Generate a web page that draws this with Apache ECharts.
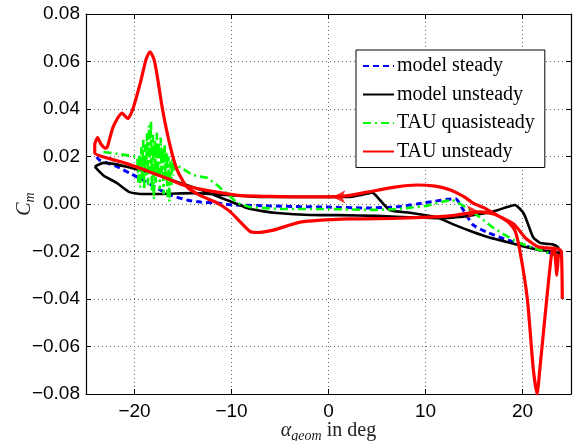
<!DOCTYPE HTML>
<html><head>
<meta charset="utf-8">
<title>Cm hysteresis</title>
<script src="https://cdn.jsdelivr.net/npm/echarts@6/dist/echarts.min.js"></script>
<style>
html,body{margin:0;padding:0;background:#fff;}
#main_chart{width:573px;height:441px;}
</style>
</head>
<body>
<div id="main_chart"></div>
<script type="text/javascript">
// values: alpha_geom in deg, Cm
var steadyAlpha = [-23.9,-23.6,-21.8,-20.5,-19.1,-17.7,-16.3,-14.6,-13.2,-11.5,-9.8,-6,-3,0,4,7,9.1,11,12.2,13.1,13.9,14.9,16.3,17.8,19.4,21,22.8,23.7];
var steadyCm = [0.0198,0.0185,0.0157,0.013,0.010,0.0067,0.0038,0.0017,0.0008,0.0004,-0.0004,-0.0008,-0.0011,-0.0013,-0.0017,-0.0012,0.0000,0.0012,0.002,0.0022,-0.0025,-0.0088,-0.0118,-0.0142,-0.0164,-0.0185,-0.0206,-0.022];

var unsteadyAlpha = [-24.1,-23.2,-22,-20.8,-19,-17.4,-15.6,-13.2,-11.8,-10.5,-9.4,-8.4,-6.8,-5.3,-1.9,1,5,9,11.5,13.5,15,16.3,17.5,18.4,19.2,20.1,20.6,21.1,21.8,22.5,23.1,23.6,24.0,
  23.2,21.8,20,18.4,16.5,14.9,13,11.8,10.8,8.4,6.3,5.3,4.5,3.6,2.2,-1.9,-7.1,-10.5,-14,-17.4,-19.1,-20.5,-21.8,-23.2,-24.1];
var unsteadyCm = [0.0157,0.0173,0.0168,0.0157,0.0138,0.012,0.0093,0.006,0.0038,0.0017,0.0,-0.0017,-0.003,-0.0038,-0.0046,-0.0047,-0.005,-0.0057,-0.006,-0.0055,-0.0046,-0.0038,-0.0025,-0.0013,-0.0004,-0.0038,-0.0088,-0.014,-0.0164,-0.0168,-0.017,-0.018,-0.0206,
  -0.0202,-0.0194,-0.0178,-0.016,-0.014,-0.0118,-0.0088,-0.0067,-0.0053,-0.0037,-0.0025,0.0017,0.0048,0.004,0.003,0.003,0.003,0.0038,0.0046,0.0042,0.0042,0.005,0.0088,0.012,0.0157];

var quasiAlpha = [-23.2,-21.5,-19.7,
  -19.6,-19.5,-19.4,-19.3,-19.2,-19.1,-19.0,-18.9,-18.8,-18.7,-18.6,-18.5,-18.4,-18.3,-18.2,-18.1,-18.0,-17.9,-17.8,-17.7,-17.6,-17.5,-17.4,-17.3,-17.2,-17.1,-17.0,-16.9,-16.8,-16.7,-16.6,-16.5,-16.4,-16.3,-16.2,-16.1,-16.0,-15.9,
  -15.8,-14,-12.5,-11.5,-10.5,-9.4,-8.1,-5,0,4,7,10.1,12,12.8,13.8,14.9,17,19.4,21.8,23.9];
var quasiCm = [0.0219,0.021,0.0198,
  0.009,0.021,0.007,0.024,0.010,0.027,0.006,0.025,0.012,0.030,0.008,0.033,0.014,0.035,0.005,0.029,0.002,0.027,0.009,0.030,0.011,0.026,0.006,0.028,0.013,0.024,0.004,0.025,0.010,0.022,0.003,0.020,0.001,0.018,0.008,0.019,0.012,0.017,
  0.0165,0.0122,0.011,0.008,0.0046,0.0004,-0.0013,-0.0021,-0.0021,-0.0025,-0.0022,-0.0008,0.0012,0.0017,-0.0005,-0.0034,-0.0101,-0.016,-0.0194,-0.0223];

var tauAlpha = [23.7,23.55,23.25,23.0,22.5,21.8,21.5,21.1,20.5,19.7,19.2,18.5,17.0,16.0,14.9,14.0,12.5,11.0,9.1,7.0,4.0,2.0,0.0,-3.0,-6.0,-9.0,-11.5,-13.5,-15.0,-16.5,-18.4,-20.8,-22.5,-24.1,
  -24.1,-23.8,-23.5,-23.0,-22.8,-22.2,-21.3,-20.7,-20.2,-19.4,-18.8,-18.4,-18.0,-17.7,-17.1,-16.3,-15.6,-14.6,-13.2,-11.5,-10.2,-9.1,-8.1,-7.4,-5.7,-2.9,2.2,7.4,12.5,15.6,17.0,18.0,19.2,20.3,21.6,22.8,23.7,24.0,24.1];
var tauCm = [-0.021,-0.030,-0.0185,-0.021,-0.040,-0.069,-0.080,-0.069,-0.040,-0.019,-0.011,-0.0075,-0.0038,-0.0015,0.0004,0.003,0.006,0.0075,0.008,0.0072,0.005,0.0035,0.003,0.003,0.0032,0.0035,0.005,0.0065,0.008,0.0105,0.0135,0.017,0.019,0.0215,
  0.025,0.028,0.0255,0.0235,0.024,0.0325,0.0383,0.036,0.0396,0.051,0.061,0.0641,0.061,0.055,0.0396,0.024,0.0143,0.0072,0.0035,0.0005,-0.003,-0.0075,-0.0115,-0.012,-0.011,-0.0076,-0.0063,-0.006,-0.005,-0.0033,-0.0042,-0.006,-0.0088,-0.0143,-0.018,-0.0186,-0.019,-0.020,-0.040];

// direction arrows drawn on the TAU unsteady loop
var arrowAlpha = [0.4, 15.6];
var arrowCm = [0.003, -0.0033];

var xTicks = [-20, -10, 0, 10, 20];

function pairs(xs, ys) {
    var out = [];
    for (var i = 0; i < xs.length; i++) out.push([xs[i], ys[i]]);
    return out;
}
function minus(s) { return String(s).replace('-', '\u2212'); }

var myChart = echarts.init(document.getElementById('main_chart'));
var serif = 'Liberation Serif';
var sans = 'Liberation Sans';

var arrowData = [];
for (var i = 0; i < arrowAlpha.length; i++) {
    arrowData.push({ value: [arrowAlpha[i], arrowCm[i]], symbolRotate: i == 0 ? 90 : -90 });
}

var boxLine = { show: true, onZero: false, lineStyle: { color: '#000', width: 1.2 } };

option = {
    animation: false,
    backgroundColor: '#fff',
    grid: { left: 86, right: 2, top: 14, bottom: 47, containLabel: false, outerBoundsMode: 'none' },
    legend: {
        orient: 'vertical',
        left: 356, top: 50,
        data: ['model steady', 'model unsteady', 'TAU quasisteady', 'TAU unsteady'],
        itemWidth: 31, itemHeight: 14, itemGap: 8.5,
        padding: [6, 10, 6, 6],
        borderColor: '#000', borderWidth: 1,
        backgroundColor: '#fff',
        itemStyle: { opacity: 0 },
        textStyle: { fontFamily: serif, fontSize: 20, color: '#000', padding: [0, 0, 0, -2] }
    },
    xAxis: [{
        type: 'value', min: -25, max: 25,
        name: '{a|\u03b1}{s|geom}{b| in deg}',
        nameLocation: 'middle', nameGap: 25, nameMoveOverlap: false,
        nameTextStyle: {
            rich: {
                a: { fontFamily: serif, fontStyle: 'italic', fontSize: 20, color: '#222' },
                s: { fontFamily: serif, fontStyle: 'italic', fontSize: 14, color: '#222', padding: [10, 0, 0, 0] },
                b: { fontFamily: serif, fontSize: 20, color: '#222' }
            }
        },
        axisLine: boxLine,
        axisTick: { inside: true, length: 5, lineStyle: { color: '#000' }, customValues: xTicks },
        axisLabel: {
            customValues: xTicks,
            margin: 8, fontFamily: sans, fontSize: 19, color: '#000',
            formatter: function (v) { return minus(v); }
        },
        splitLine: { show: true, lineStyle: { color: '#666', type: [1, 3], width: 1 } }
    }, {
        type: 'value', min: -25, max: 25, position: 'top',
        axisLine: boxLine,
        axisTick: { inside: true, length: 5, lineStyle: { color: '#000' }, customValues: xTicks },
        axisLabel: { show: false },
        splitLine: { show: false }
    }],
    yAxis: [{
        type: 'value', min: -0.08, max: 0.08, interval: 0.02,
        name: '{c|C}{m|m}',
        nameLocation: 'middle', nameGap: 49, nameRotate: 90, nameMoveOverlap: false,
        nameTextStyle: {
            rich: {
                c: { fontFamily: serif, fontStyle: 'italic', fontSize: 20, color: '#222' },
                m: { fontFamily: serif, fontStyle: 'italic', fontSize: 14, color: '#222', padding: [10, 0, 0, 0] }
            }
        },
        axisLine: boxLine,
        axisTick: { inside: true, length: 5, lineStyle: { color: '#000' } },
        axisLabel: {
            margin: 6, fontFamily: sans, fontSize: 19, color: '#000',
            formatter: function (v) { return minus(v.toFixed(2)); }
        },
        splitLine: { show: true, lineStyle: { color: '#666', type: [1, 3], width: 1 } }
    }, {
        type: 'value', min: -0.08, max: 0.08, interval: 0.02, position: 'right',
        axisLine: boxLine,
        axisTick: { inside: true, length: 5, lineStyle: { color: '#000' } },
        axisLabel: { show: false },
        splitLine: { show: false }
    }],
    series: [
        {
            name: 'model steady', type: 'line', symbol: 'none', smooth: 0.2,
            data: pairs(steadyAlpha, steadyCm),
            itemStyle: { color: '#0000ff' },
            lineStyle: { color: '#0000ff', width: 3, type: [6, 4] }
        },
        {
            name: 'model unsteady', type: 'line', symbol: 'none', smooth: 0.2,
            data: pairs(unsteadyAlpha, unsteadyCm),
            itemStyle: { color: '#000' },
            lineStyle: { color: '#000', width: 2.6 }
        },
        {
            name: 'TAU quasisteady', type: 'line', symbol: 'none',
            data: pairs(quasiAlpha, quasiCm),
            itemStyle: { color: '#00ff00' },
            lineStyle: { color: '#00ff00', width: 2.6, type: [8, 4, 2, 4] }
        },
        {
            name: 'TAU unsteady', type: 'line', symbol: 'none', smooth: 0.2,
            data: pairs(tauAlpha, tauCm),
            itemStyle: { color: '#ff0000' },
            lineStyle: { color: '#ff0000', width: 3.2 }
        },
        {
            name: 'arrows', type: 'scatter', symbol: 'arrow', symbolSize: [10, 13],
            data: arrowData,
            itemStyle: { color: '#ff0000' },
            z: 5
        }
    ]
};

myChart.setOption(option);
</script>
</body>
</html>
